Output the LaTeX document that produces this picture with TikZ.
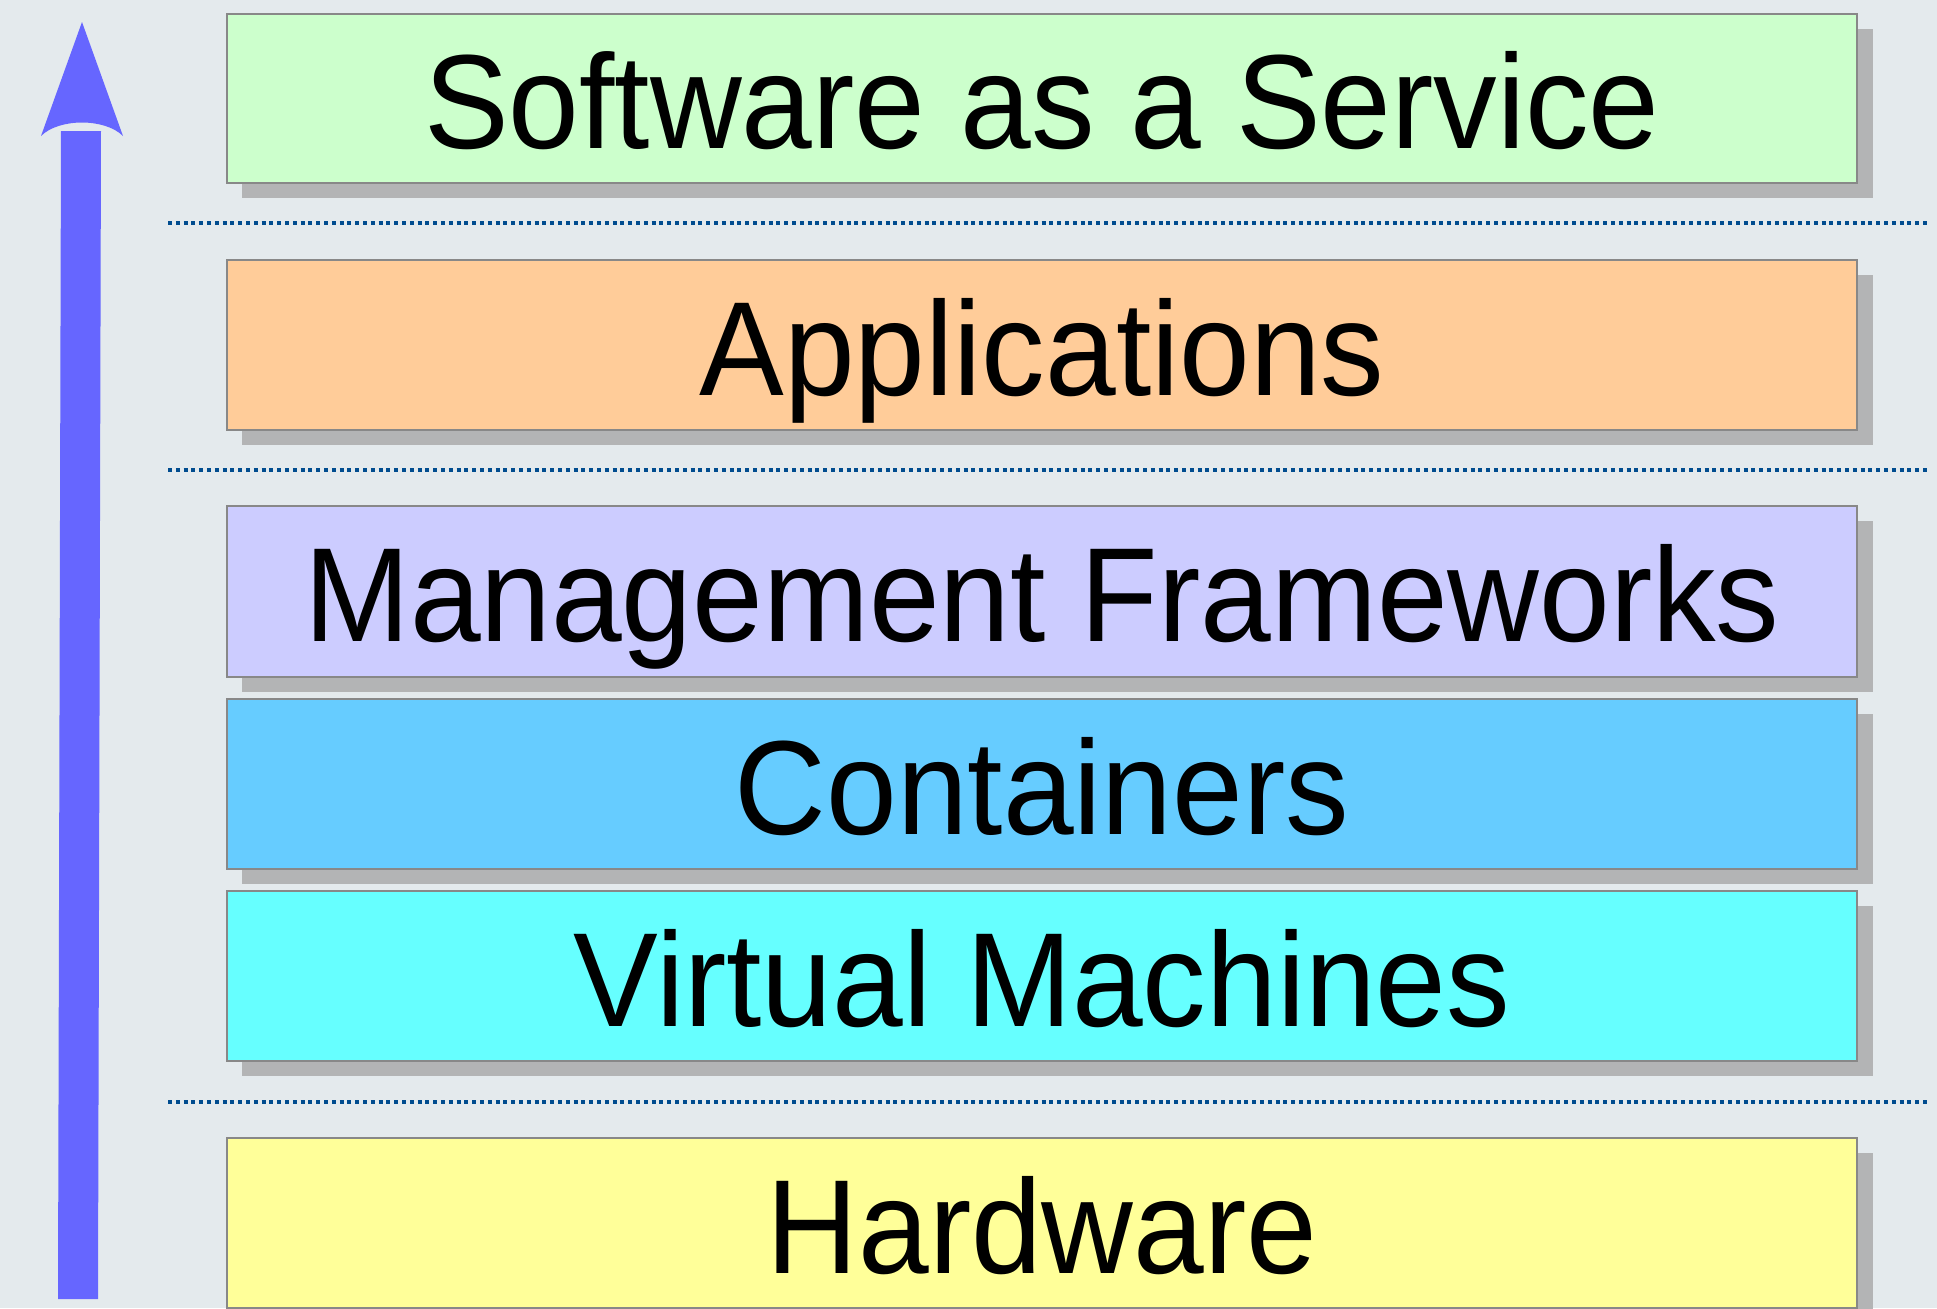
\documentclass[tikz,border=0pt]{standalone}
\usepackage{fontspec}
\setmainfont{Liberation Sans}[FakeStretch=0.948]
\begin{document}
\begin{tikzpicture}[x=0.5pt,y=-0.5pt,
  layer/.style={draw=boxline,line width=1pt},
  shadowbox/.style={fill=shadowgrey},
  sep/.style={draw=sepblue,line width=2pt,dash pattern=on 2pt off 1.9pt},
  label/.style={anchor=base,inner sep=0pt,font=\fontsize{67}{80}\selectfont}]
\definecolor{bgc}{HTML}{E4EAED}
\definecolor{boxline}{HTML}{888888}
\definecolor{shadowgrey}{HTML}{B3B4B5}
\definecolor{sepblue}{HTML}{004C8F}
\definecolor{arrowc}{HTML}{6666FF}
\definecolor{saasc}{HTML}{CCFFCC}
\definecolor{appc}{HTML}{FFCC99}
\definecolor{mgmtc}{HTML}{CCCCFF}
\definecolor{contc}{HTML}{66CCFF}
\definecolor{vmc}{HTML}{66FFFF}
\definecolor{hwc}{HTML}{FFFF99}
% canvas
\fill[bgc] (0,0) rectangle (1937,1308);
\useasboundingbox (0,0) rectangle (1937,1308);
% layers: shadow, box, label
\foreach \t/\b/\c/\n/\s in {14/183/saasc/saas/{Software as a Service},
                              260/430/appc/app/Applications,
                              506/677/mgmtc/mgmt/Management Frameworks,
                              699/869/contc/cont/Containers,
                              891/1061/vmc/vm/Virtual Machines,
                              1138/1308/hwc/hw/Hardware}{
  \fill[shadowbox] (242,\t+15) rectangle (1873,\b+15);
  \draw[layer,fill=\c] (227,\t) rectangle (1857,\b);
  \node[label] (\n) at (1042,{(\t+\b)/2+50}) {\s};
}
% separators
\foreach \y/\n in {223/sepa,470/sepb,1102/sepc}{
  \coordinate (\n-l) at (168,\y);
  \coordinate (\n-r) at (1927,\y);
  \draw[sep] (\n-l) -- (\n-r);
}
% upward arrow
\coordinate (shaftbot) at (78,1299);
\coordinate (shafttop) at (81,131);
\fill[arrowc] (58,1299) -- (98,1299) -- (101,131) -- (61,131) -- cycle;
\coordinate (tip) at (82,22);
\fill[arrowc] (tip) -- (123,136) .. controls (105,118) and (59,118) .. (41,136) -- cycle;
\end{tikzpicture}
\end{document}
